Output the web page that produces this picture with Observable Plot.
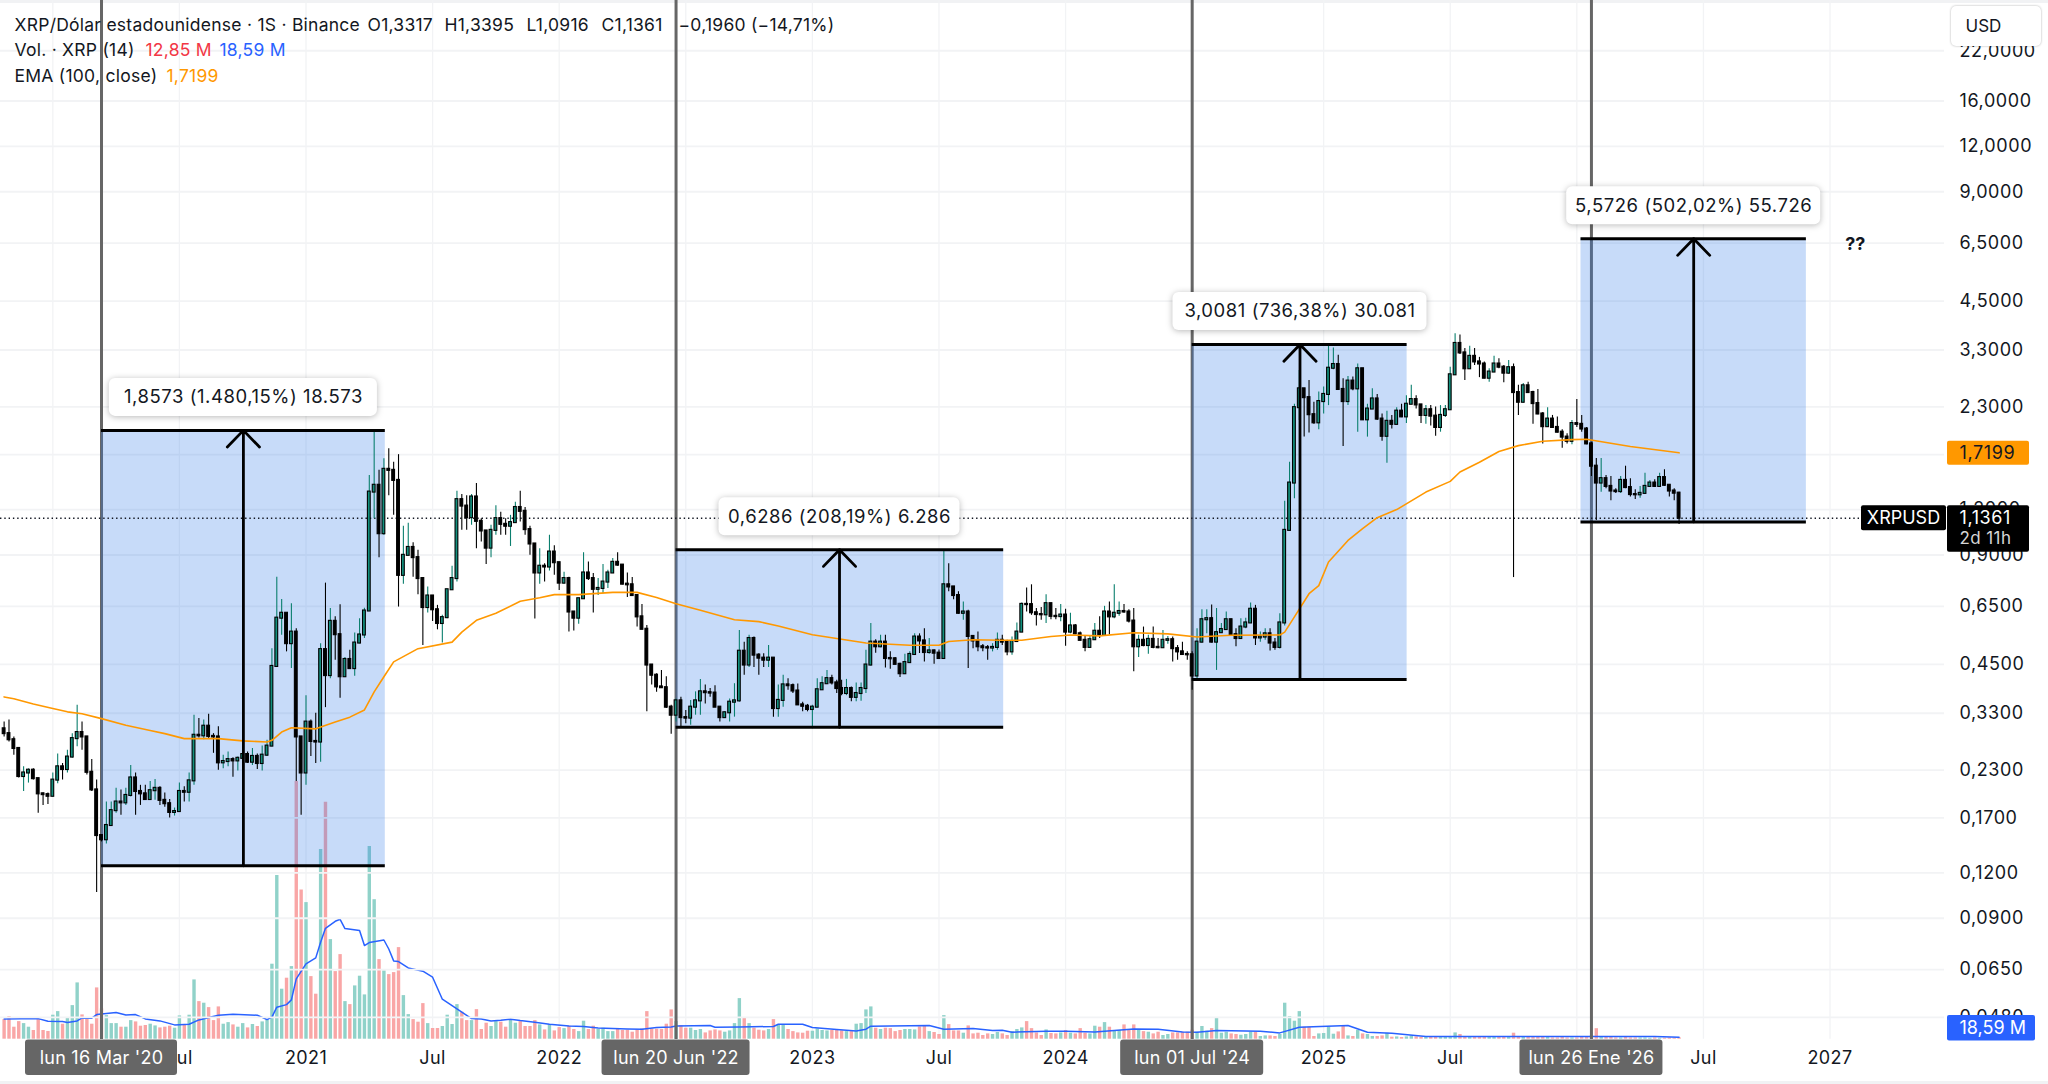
<!DOCTYPE html>
<html lang="es">
<head>
<meta charset="utf-8">
<title>XRP/Dólar estadounidense</title>
<script src="https://cdn.jsdelivr.net/npm/d3@7"></script>
<script src="https://cdn.jsdelivr.net/npm/@observablehq/plot@0.6"></script>
<style>
html,body{margin:0;padding:0;background:#fff;overflow:hidden}
#chart{position:relative;width:2048px;height:1084px;font-family:Inter,"Noto Sans",sans-serif}
#chart svg{position:absolute;left:0;top:0}
</style>
</head>
<body>
<div id="chart"></div>
<script>
// ---- weekly bars, first one on lun 28 Oct 2019 ----
const firstOpen = 0.299;
const closes = [
.290,.279,.264,.221,.226,.230,.218,.198,.197,.195,
.216,.235,.231,.250,.281,.292,.284,.227,.203,.152,
.148,.162,.178,.188,.187,.196,.219,.201,.198,.191,
.202,.205,.190,.186,.176,.177,.201,.200,.215,.287,
.286,.304,.285,.284,.241,.243,.246,.244,.248,.254,
.242,.251,.240,.253,.268,.444,.603,.622,.513,.552,
.284,.226,.312,.276,.275,.494,.419,.591,.543,.416,
.464,.438,.515,.542,.631,1.341,1.40,1.03,1.549,1.539,
1.444,.791,.898,.944,.885,.775,.645,.694,.636,.583,
.605,.722,.775,1.278,1.227,1.14,1.30,1.114,1.048,.94,
1.052,1.133,1.093,1.08,1.105,1.216,1.187,1.057,.965,.803,
.838,.834,.917,.857,.753,.775,.627,.603,.682,.803,
.775,.724,.728,.758,.803,.859,.844,.748,.745,.696,
.608,.562,.448,.42,.39,.388,.343,.326,.357,.321,
.320,.343,.357,.378,.376,.375,.343,.321,.331,.354,
.357,.489,.448,.53,.477,.468,.462,.468,.34,.358,
.395,.393,.38,.348,.345,.338,.343,.383,.398,.411,
.40,.386,.374,.386,.365,.374,.386,.448,.518,.503,
.518,.467,.466,.45,.424,.455,.479,.535,.522,.485,
.49,.483,.467,.745,.735,.696,.622,.627,.537,.522,
.503,.50,.499,.501,.524,.518,.487,.52,.552,.658,
.657,.624,.617,.616,.661,.61,.609,.615,.552,.574,
.546,.524,.501,.526,.555,.541,.627,.608,.622,.629,
.627,.592,.503,.524,.507,.527,.501,.50,.524,.526,
.497,.487,.479,.478,.418,.518,.597,.601,.518,.55,
.561,.597,.543,.53,.57,.585,.638,.532,.535,.546,
.515,.501,.585,1.052,1.42,2.29,2.58,2.44,2.19,2.08,
2.38,2.49,2.94,3.01,2.57,2.38,2.71,2.58,2.93,2.12,
2.27,2.42,2.13,1.91,2.10,2.06,2.24,2.16,2.34,2.41,
2.33,2.18,2.26,2.17,2.02,2.18,2.26,2.82,3.44,3.24,
2.93,3.17,3.06,3.02,2.76,2.87,3.02,2.96,2.85,2.95,
2.52,2.37,2.63,2.52,2.35,2.2,2.03,2.13,2.02,1.96,
1.90,1.85,2.07,2.06,2.0,1.82,1.58,1.42,1.46,1.39,
1.35,1.345,1.444,1.38,1.32,1.318,1.33,1.39,1.42,1.39,
1.47,1.40,1.35,1.3317,1.1361];
const highs = [
.312,.316,.284,.264,.235,.232,.232,.217,.199,.199,
.226,.255,.240,.261,.290,.347,.312,.284,.246,.216,
.152,.188,.188,.205,.203,.205,.237,.226,.209,.209,
.214,.217,.207,.199,.191,.181,.212,.207,.226,.326,
.319,.316,.328,.290,.303,.253,.258,.249,.250,.267,
.258,.264,.255,.268,.278,.497,.782,.679,.622,.661,
.564,.284,.369,.316,.330,.513,.753,.641,.608,.657,
.470,.492,.549,.601,.642,1.49,1.96,1.539,1.657,1.765,
1.62,1.70,1.08,1.10,.973,.927,.775,.735,.694,.654,
.614,.722,.838,1.348,1.32,1.31,1.32,1.415,1.133,1.048,
1.086,1.23,1.18,1.133,1.157,1.258,1.348,1.216,1.08,.965,
.936,.852,1.02,.955,.857,.807,.782,.627,.682,.913,
.861,.80,.775,.848,.817,.88,.913,.844,.803,.78,
.70,.658,.576,.445,.424,.433,.416,.347,.361,.365,
.336,.358,.378,.409,.395,.386,.393,.343,.333,.361,
.398,.558,.518,.541,.535,.481,.481,.507,.468,.395,
.42,.411,.397,.397,.354,.349,.347,.411,.416,.433,
.42,.407,.407,.409,.39,.40,.40,.492,.583,.526,
.541,.541,.487,.47,.453,.48,.487,.546,.546,.564,
.53,.493,.493,.93,.852,.735,.713,.668,.634,.537,
.552,.51,.507,.513,.549,.541,.524,.535,.585,.664,
.73,.745,.641,.645,.70,.661,.641,.658,.638,.622,
.579,.552,.537,.537,.583,.608,.65,.668,.745,.668,
.658,.636,.641,.541,.57,.541,.57,.53,.558,.537,
.535,.507,.518,.487,.487,.564,.636,.636,.655,.641,
.583,.627,.599,.564,.601,.603,.664,.654,.552,.564,
.564,.53,.62,1.266,1.62,2.34,2.90,2.58,2.72,2.37,
2.53,2.61,3.38,3.34,3.19,2.75,2.79,2.78,3.02,2.93,
2.34,2.58,2.49,2.2,2.24,2.18,2.29,2.34,2.47,2.64,
2.47,2.33,2.32,2.32,2.30,2.32,2.32,2.96,3.66,3.63,
3.33,3.38,3.33,3.15,3.06,2.93,3.17,3.12,2.99,3.09,
3.02,2.64,2.67,2.69,2.54,2.57,2.22,2.29,2.18,2.16,
1.99,1.94,2.11,2.41,2.18,2.02,1.84,1.66,1.66,1.49,
1.48,1.37,1.48,1.58,1.46,1.36,1.39,1.51,1.444,1.45,
1.51,1.545,1.40,1.37,1.3395];
const lows = [
.284,.275,.253,.219,.201,.212,.216,.175,.184,.185,
.194,.211,.216,.226,.248,.267,.261,.223,.201,.106,
.146,.144,.162,.175,.173,.184,.194,.173,.184,.190,
.190,.190,.184,.182,.170,.172,.176,.188,.188,.209,
.282,.279,.281,.256,.230,.232,.235,.220,.229,.242,
.240,.237,.231,.229,.251,.267,.441,.541,.487,.438,
.214,.173,.209,.251,.240,.242,.342,.411,.462,.363,
.416,.438,.417,.513,.530,.631,1.133,.885,1.02,1.31,
1.157,.647,.748,.898,.782,.70,.507,.623,.59,.56,
.515,.601,.719,.758,1.052,1.052,1.086,.936,.977,.848,
.885,1.02,1.02,1.02,.95,1.11,1.11,1.02,.898,.60,
.748,.758,.813,.791,.719,.748,.552,.556,.58,.68,
.766,.623,.696,.704,.728,.80,.838,.745,.687,.692,
.57,.56,.333,.395,.377,.386,.34,.289,.312,.303,
.309,.306,.326,.326,.35,.365,.343,.312,.319,.312,
.322,.354,.42,.441,.441,.42,.441,.441,.322,.322,
.343,.382,.374,.347,.333,.333,.299,.342,.382,.397,
.395,.374,.369,.369,.355,.355,.356,.374,.445,.483,
.50,.44,.436,.45,.414,.422,.455,.48,.482,.457,
.48,.45,.464,.464,.713,.678,.618,.595,.438,.497,
.487,.487,.462,.487,.492,.507,.475,.477,.518,.552,
.627,.614,.574,.595,.583,.597,.597,.589,.505,.546,
.543,.522,.487,.501,.524,.53,.537,.543,.601,.61,
.622,.585,.429,.47,.503,.48,.497,.497,.507,.511,
.457,.462,.477,.462,.382,.407,.515,.546,.515,.433,
.549,.558,.541,.503,.527,.564,.585,.507,.518,.524,
.49,.492,.496,.574,1.045,1.286,2.112,1.90,1.95,2.06,
1.99,2.2,2.32,2.91,2.56,1.79,2.32,2.55,1.96,2.11,
1.90,2.27,2.11,1.85,1.61,2.0,2.07,2.15,2.07,2.34,
2.27,2.07,2.06,2.04,1.91,1.96,2.15,2.25,2.81,3.21,
2.72,2.93,2.99,2.77,2.75,2.69,2.86,2.93,2.68,2.83,
.78,2.18,2.36,2.51,2.06,2.19,1.82,2.02,2.01,1.95,
1.77,1.82,1.81,2.02,1.96,1.81,1.48,1.12,1.34,1.37,
1.27,1.33,1.33,1.37,1.30,1.28,1.29,1.32,1.385,1.38,
1.385,1.39,1.30,1.27,1.0916];
// volume, millions of XRP
const volumes = [
196,226,120,176,156,120,87,196,87,77,
240,276,150,213,336,563,243,210,150,513,
303,236,156,156,120,120,186,173,130,137,
150,133,113,120,130,110,233,147,240,593,
376,360,316,186,323,150,166,143,120,156,
113,147,127,173,193,750,1637,500,610,726,
2577,1492,1366,626,450,1897,2370,996,676,846,
376,346,533,630,443,1927,1395,796,683,646,
666,916,436,246,196,170,356,156,107,107,
127,240,147,346,270,186,186,296,97,160,
127,176,170,120,186,160,176,127,127,186,
143,93,143,83,116,106,130,97,76,180,
97,130,97,110,76,76,103,87,90,70,
93,103,276,103,100,97,150,293,176,136,
110,110,87,97,63,83,93,83,70,83,
156,406,213,156,110,90,83,97,196,140,
143,97,76,63,60,80,80,103,87,83,
87,87,83,76,76,150,156,293,323,110,
97,110,106,76,87,97,97,93,123,136,
76,67,47,236,146,83,83,60,133,53,
60,37,53,47,67,53,37,76,97,113,
176,106,63,37,93,57,53,63,87,60,
53,106,60,53,130,120,166,120,87,87,
143,87,143,87,76,70,53,70,37,47,
63,63,70,70,90,70,127,80,106,216,
60,70,53,47,40,47,70,70,27,33,
33,27,47,360,226,180,276,120,120,27,
53,57,120,50,73,130,33,27,90,53,
47,27,27,33,60,20,23,17,23,33,
23,17,23,17,17,20,17,23,63,47,
27,23,23,20,20,20,20,17,20,23,
60,27,20,20,17,17,20,17,13,13,
17,13,13,13,17,20,33,105,17,17,
20,13,13,17,13,13,13,13,10,13,
10,10,13,10,12.85];
// Vol (14) line
const volLineBars = [0,7,9,12,13,15,16,18,19,23,25,27,29,32,35,38,40,44,47,52,54,55,56,58,59,60,62,64,65,66,68,69,70,73,74,75,78,79,80,81,83,86,88,90,93,96,98,100,102,104,106,109,112,116,119,122,128,131,134,137,138,145,146,151,158,159,164,166,171,175,177,178,190,193,199,203,205,207,214,218,224,232,237,242,245,249,258,262,266,276,280,285,292,307,328,339,344];
const volLineValues = [203,206,180,176,166,183,213,210,246,266,243,246,203,183,143,150,193,240,250,240,196,220,320,346,393,603,753,813,969,1109,1179,1199,1106,1086,936,966,992,902,783,776,713,680,620,400,303,206,203,183,190,200,186,170,150,133,127,113,103,100,117,123,133,137,120,123,127,150,150,117,97,83,100,130,137,100,107,87,90,70,80,80,73,103,100,73,70,87,80,63,120,137,70,60,27,27,27,27,18.59];
// EMA (100, close)
const emaBars = [0,2,6,10,13,16,20,25,30,33,37,44,49,54,55,57,59,64,68,71,74,76,78,80,85,92,94,97,101,106,110,113,118,125,130,134,138,143,150,155,159,166,171,177,186,192,194,199,205,209,215,219,225,232,239,245,252,262,263,265,268,270,272,276,279,282,286,292,297,299,303,307,311,316,322,325,334,344];
const emaValues = [.366,.362,.350,.340,.333,.329,.319,.306,.296,.290,.281,.281,.277,.275,.278,.293,.301,.299,.312,.322,.337,.378,.416,.457,.497,.518,.552,.595,.622,.671,.686,.70,.70,.71,.71,.687,.661,.634,.597,.59,.574,.543,.53,.515,.508,.508,.52,.526,.524,.524,.537,.542,.539,.55,.546,.535,.541,.542,.552,.608,.704,.741,.861,.987,1.064,1.14,1.2,1.341,1.435,1.523,1.62,1.735,1.80,1.85,1.87,1.875,1.79,1.7199];
// axes: grid dates, and the labels that are not covered by a crosshair tag
const priceTicks = [22,16,12,9,6.5,4.5,3.3,2.3,1.7,1.2,.9,.65,.45,.33,.23,.17,.12,.09,.065,.048];
const gridDates = ["2020-01-06","2020-07-06","2021-01-04","2021-07-05","2022-01-03","2022-07-04","2023-01-02","2023-07-03","2024-01-01","2024-07-01","2025-01-06","2025-07-07","2026-01-05","2026-07-06","2027-01-04"];
const timeTickDates = ["2020-07-06","2021-01-04","2021-07-05","2022-01-03","2023-01-02","2023-07-03","2024-01-01","2025-01-06","2025-07-07","2026-07-06","2027-01-04"];
const timeTickLabels = ["Jul","2021","Jul","2022","2023","Jul","2024","2025","Jul","Jul","2027"];
const yearLabels = new Set(["2021","2022","2023","2024","2025","2027"]);
// annotations
const eventDates = ["2020-03-16","2022-06-20","2024-07-01","2026-01-26"];
const eventLabels = ["lun 16 Mar '20","lun 20 Jun '22","lun 01 Jul '24","lun 26 Ene '26"];
const measureStart = ["2020-03-16","2022-06-20","2024-07-01","2026-01-11"];
const measureEnd = ["2021-04-28","2023-10-04","2025-05-06","2026-12-01"];
const measureMid = ["2020-10-06","2023-02-10","2024-12-03","2026-06-22"];
const measureLow = [.12548,.3019,.4085,1.11];
const measureHigh = [1.9828,.9305,3.4166,6.6826];
const measureTexts = ["1,8573 (1.480,15%) 18.573","0,6286 (208,19%) 6.286","3,0081 (736,38%) 30.081","5,5726 (502,02%) 55.726"];
const lastPrice = 1.1361, emaLast = 1.7199;

// ---- helpers ----
const start = Date.UTC(2019,9,28), week = 7*864e5;
const at = i => new Date(start + i*week);
const d = s => new Date(s + "T00:00:00Z");
const TEAL = "#12907e", TEALW = "#0b7f6e", BLACK = "#000";
const TXT = "#131722";
const FONT = "Inter";
const bars = closes.map((c,i)=>{
  const open = i ? closes[i-1] : firstOpen;
  return {date:at(i),open,close:c,high:highs[i],low:lows[i],volume:volumes[i],up:c>=open};
});
const xDomain = [at(-0.744), at(419.87)];
const priceFloor = 0.04174, priceTop = 30.25;
const base = {width:2048,height:1084,marginTop:0,marginRight:0,marginBottom:0,marginLeft:0,
  x:{type:"utc",domain:xDomain,range:[0,2048],axis:null},
  color:{type:"identity"}};
const priceY = {type:"log",domain:[0.03137,priceTop],range:[1084,0],axis:null};
const f4 = v => v.toFixed(4).replace(".",",");
const withShadow = css => (index,scales,values,dims,ctx,next)=>{
  const g = next(index,scales,values,dims,ctx);
  g.style.filter = css;
  return g;
};
const spaced = px => (index,scales,values,dims,ctx,next)=>{
  const g = next(index,scales,values,dims,ctx);
  g.style.letterSpacing = px + "px";
  return g;
};

// ---- back layer: grid and volume ----
const back = Plot.plot({...base,
  y:{domain:[0,10387],range:[1038.7,0],axis:null},
  style:{background:"#fff",fontFamily:FONT},
  marks:[
    Plot.rect([0],{insetTop:0,insetBottom:1081,fill:"#f1f2f4"}),
    Plot.rect([0],{insetTop:1081,insetBottom:0,fill:"#f1f2f4"}),
    Plot.ruleX(gridDates,{x:s=>d(s),y1:0,y2:10387,stroke:"#f2f3f5",strokeWidth:1.3}),
    Plot.ruleX(bars,{x:"date",y1:0,y2:"volume",strokeWidth:3.4,stroke:b=>b.up?"#90d2c9":"#f9a6a6"}),
    Plot.line(volLineBars.map((b,i)=>({date:at(b),v:volLineValues[i]})),{x:"date",y:"v",stroke:"#2962ff",strokeWidth:1.5})
  ]});

// ---- horizontal grid on the log price scale ----
const gridLayer = Plot.plot({...base,y:priceY,style:{background:"transparent",fontFamily:FONT},
  marks:[Plot.ruleY(priceTicks,{y:v=>v,insetRight:104,stroke:"#f2f3f5",strokeWidth:1.8})]});

// ---- front layer ----
const measures = measureLow.map((lo,i)=>({
  left:d(measureStart[i]),right:d(measureEnd[i]),mid:d(measureMid[i]),lo,hi:measureHigh[i],text:measureTexts[i]}));
const boxHalf = [134,120.5,127,127];
const header = [
  {t:"XRP/Dólar estadounidense · 1S · Binance",x:14,y:24.5,c:TXT},
  {t:"O1,3317",x:367,y:24.5,c:TXT},{t:"H1,3395",x:444,y:24.5,c:TXT},
  {t:"L1,0916",x:526,y:24.5,c:TXT},{t:"C1,1361",x:601,y:24.5,c:TXT},
  {t:"−0,1960 (−14,71%)",x:678,y:24.5,c:TXT},
  {t:"Vol. · XRP (14)",x:14,y:50,c:TXT},{t:"12,85 M",x:145,y:50,c:"#f23645"},{t:"18,59 M",x:219,y:50,c:"#2962ff"},
  {t:"EMA (100, close)",x:14,y:75.5,c:TXT},{t:"1,7199",x:166,y:75.5,c:"#ff9800"}
];
const tagHalf = [76,74,71.5,71.5];
const front = Plot.plot({...base,y:priceY,style:{background:"transparent",fontFamily:FONT},
  marks:[
    Plot.ruleX(eventDates,{x:s=>d(s),y1:priceTop,y2:priceFloor,stroke:"#666",strokeWidth:3}),
    Plot.rect(measures,{x1:"left",x2:"right",y1:"lo",y2:"hi",fill:"#2f7be9",fillOpacity:.27}),
    Plot.ruleY([lastPrice],{y:v=>v,x1:xDomain[0],x2:at(382),stroke:TXT,strokeWidth:1.4,strokeDasharray:"1.4 2.9"}),
    Plot.ruleX(bars,{x:"date",y1:"low",y2:"high",strokeWidth:1.1,stroke:b=>b.up?TEALW:BLACK}),
    Plot.rect(bars,{x1:"date",x2:"date",y1:"open",y2:"close",insetLeft:-1.4,insetRight:-1.4,insetTop:-.5,insetBottom:-.5,
      fill:b=>b.up?TEAL:BLACK,stroke:BLACK,strokeWidth:1.1}),
    Plot.line(emaBars.map((b,i)=>({date:at(b),v:emaValues[i]})),{x:"date",y:"v",stroke:"#ff9800",strokeWidth:1.6}),
    Plot.arrow(measures,{x1:"mid",x2:"mid",y1:"lo",y2:"hi",bend:0,headAngle:88,headLength:12.4,stroke:BLACK,strokeWidth:2.8}),
    Plot.ruleY(measures,{y:"lo",x1:"left",x2:"right",stroke:BLACK,strokeWidth:3}),
    Plot.ruleY(measures,{y:"hi",x1:"left",x2:"right",stroke:BLACK,strokeWidth:3}),
    ...measures.map((m,i)=>Plot.rect([m],{x1:"mid",x2:"mid",y1:"hi",y2:"hi",
      insetLeft:-boxHalf[i],insetRight:-boxHalf[i],insetTop:-52,insetBottom:14,rx:6,fill:"#fff",
      render:withShadow("drop-shadow(0 1px 3px rgba(0,0,0,.28))")})),
    Plot.text(measures,{x:"mid",y:"hi",dy:-33,text:"text",fontSize:18.5,fill:TXT,render:spaced(.55)}),
    Plot.text(["??"],{x:at(380.2),y:6.5,text:t=>t,fontSize:18,fontWeight:700,fill:TXT,dy:1}),
    // time axis
    Plot.text(timeTickDates,{x:s=>d(s),text:(s,i)=>timeTickLabels[i],frameAnchor:"bottom",dy:-21,fontSize:18,
      fontWeight:(s,i)=>yearLabels.has(timeTickLabels[i])?700:400,fill:TXT,render:spaced(.4)}),
    ...eventDates.map((s,i)=>Plot.rect([s],{x1:v=>d(v),x2:v=>d(v),insetLeft:-tagHalf[i],insetRight:-tagHalf[i],insetTop:1039.5,insetBottom:9,rx:3,fill:"#666"})),
    Plot.text(eventDates,{x:s=>d(s),text:(s,i)=>eventLabels[i],frameAnchor:"bottom",dy:-21,fontSize:18,fill:"#fff",render:spaced(.25)}),
    // price axis
    Plot.text(priceTicks,{y:v=>v,text:f4,frameAnchor:"right",textAnchor:"start",dx:-89,fontSize:18,fill:TXT,render:spaced(.6)}),
    Plot.rect([0],{insetLeft:1951,insetRight:7,insetTop:6,insetBottom:1038,rx:5,fill:"#fff",
      render:withShadow("drop-shadow(0 0 1px rgba(0,0,0,.3))")}),
    Plot.text(["USD"],{text:t=>t,frameAnchor:"top-right",textAnchor:"start",dx:-83,dy:26,lineAnchor:"middle",fontSize:17,fill:TXT}),
    // last value labels
    Plot.rect([emaLast],{y1:v=>v,y2:v=>v,insetLeft:1947,insetRight:19,insetTop:-11.5,insetBottom:-12.5,rx:2,fill:"#ff9800"}),
    Plot.text([emaLast],{y:v=>v,text:f4,frameAnchor:"right",textAnchor:"start",dx:-89,fontSize:18,fill:TXT,render:spaced(.6)}),
    Plot.rect([lastPrice],{y1:v=>v,y2:v=>v,insetLeft:1861,insetRight:102,insetTop:-12.5,insetBottom:-12.5,rx:2,fill:"#000"}),
    Plot.text(["XRPUSD"],{y:lastPrice,text:t=>t,frameAnchor:"right",textAnchor:"middle",dx:-145,fontSize:18,fill:"#fff"}),
    Plot.rect([lastPrice],{y1:v=>v,y2:v=>v,insetLeft:1947,insetRight:19,insetTop:-12.5,insetBottom:-34,rx:2,fill:"#000"}),
    Plot.text([lastPrice],{y:v=>v,text:f4,frameAnchor:"right",textAnchor:"start",dx:-89,fontSize:18,fill:"#fff",render:spaced(.6)}),
    Plot.text(["2d 11h"],{y:lastPrice,text:t=>t,frameAnchor:"right",textAnchor:"start",dx:-89,dy:20,fontSize:17,fill:"#d6d6d6",render:spaced(.4)}),
    Plot.rect([0],{insetLeft:1947,insetRight:13,insetTop:1015,insetBottom:43.5,rx:2,fill:"#2962ff"}),
    Plot.text(["18,59 M"],{text:t=>t,frameAnchor:"top-right",textAnchor:"start",dx:-89,dy:1028,lineAnchor:"middle",fontSize:18,fill:"#fff"}),
    // legend over the pane
    Plot.text(header,{text:"t",frameAnchor:"top-left",lineAnchor:"middle",textAnchor:"start",fontSize:17.5,fill:"c",
      render(index,scales,values,dims,ctx,next){
        const g = next(index,scales,values,dims,ctx);
        g.style.letterSpacing = ".25px";
        d3.select(g).selectAll("text").each(function(_,j){
          const h = header[index[j]];
          this.setAttribute("transform",`translate(${h.x},${h.y})`);
        });
        return g;
      }})
  ]});

const host = document.getElementById("chart");
host.append(back, gridLayer, front);
</script>
</body>
</html>
